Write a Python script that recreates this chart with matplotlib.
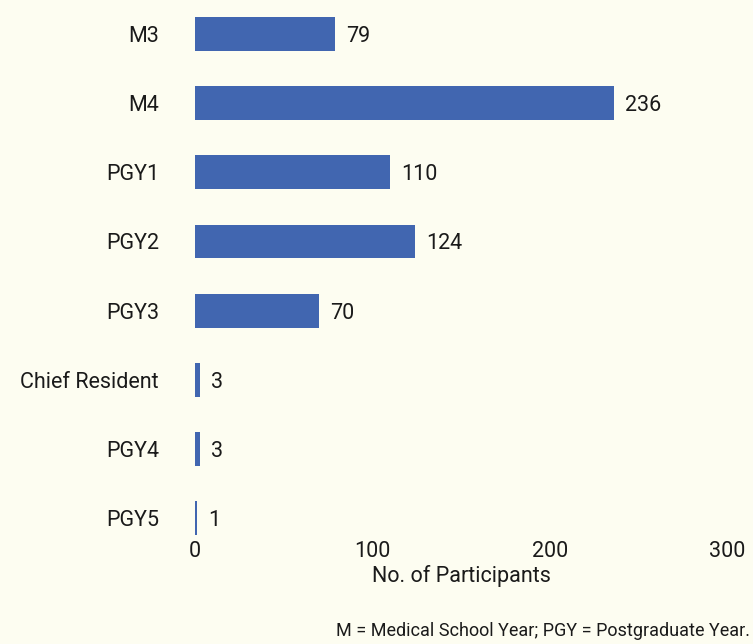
import matplotlib.pyplot as plt

categories = ["M3", "M4", "PGY1", "PGY2", "PGY3", "Chief Resident", "PGY4", "PGY5"]
participants = [79, 236, 110, 124, 70, 3, 3, 1]
x_ticks = [0, 100, 200, 300]

bg = "#fdfdf1"
bar_color = "#4166b0"

plt.rcParams["font.family"] = ["Roboto", "DejaVu Sans"]

fig = plt.figure(figsize=(7.53, 6.44), dpi=100, facecolor=bg)
ax = fig.add_axes([195 / 753, 104 / 644, 532 / 753, 540 / 644])
ax.set_facecolor(bg)

pos = list(range(len(categories)))
ax.barh(pos, participants, height=0.49, color=bar_color)

for y, v in zip(pos, participants):
    ax.text(v + 6.3, y, str(v), va="center_baseline", ha="left", fontsize=15.5, color="#1a1a1a")

ax.set_xlim(0, 300)
ax.set_ylim(7.318, -0.492)
ax.set_xticks(x_ticks)
ax.set_xticklabels([str(t) for t in x_ticks])
ax.set_yticks(pos)
ax.set_yticklabels(categories, va="center_baseline")
ax.tick_params(axis="both", length=0, labelsize=15.5, colors="#1a1a1a")
ax.tick_params(axis="y", pad=26)
ax.tick_params(axis="x", pad=1)
for s in ax.spines.values():
    s.set_visible(False)

ax.set_xlabel("No. of Participants", fontsize=15.5, color="#1a1a1a", labelpad=2)

fig.text(750 / 753, 1 - 631 / 644, "M = Medical School Year; PGY = Postgraduate Year.",
         ha="right", va="center", fontsize=13, color="#1a1a1a")

fig.savefig("out.png", dpi=100, facecolor=bg)
